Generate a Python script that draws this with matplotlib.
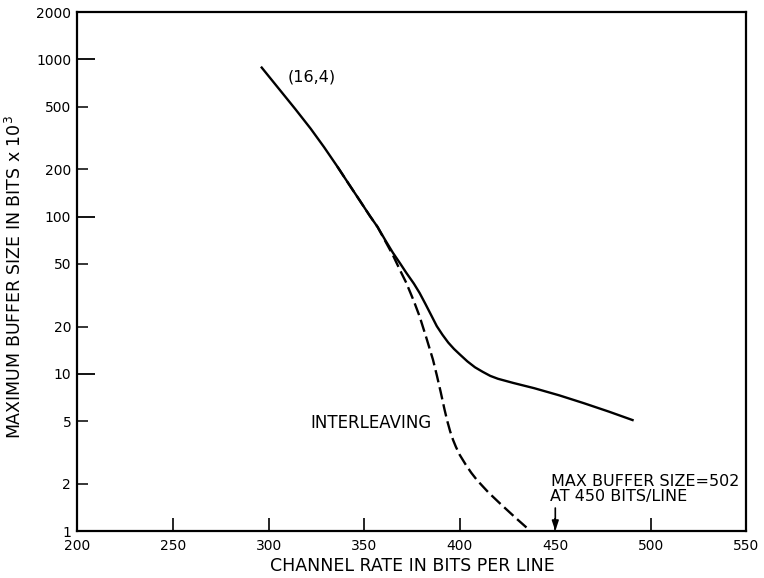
import matplotlib
matplotlib.use("Agg")
import matplotlib.pyplot as plt
from matplotlib.ticker import FixedLocator, FuncFormatter

# (16,4) code: maximum buffer size (bits x 10^3) vs channel rate (bits/line)
rate_16_4 = [296, 306, 314, 322, 329, 336, 342, 348, 353, 357, 361, 365,
             369, 372, 376, 379, 382, 385, 388, 391, 394, 397, 400, 404,
             408, 412, 416, 420, 428, 439, 452, 465, 478, 491]
buffer_16_4 = [900, 637, 483, 363, 277, 208, 161, 125, 101, 86, 71, 59,
               50, 44, 37.5, 32.7, 27.9, 23.7, 20.1, 17.7, 15.8, 14.4, 13.3,
               12.0, 11.0, 10.3, 9.7, 9.3, 8.75, 8.1, 7.3, 6.5, 5.75, 5.05]

# with interleaving
rate_interleave = [336, 342, 348, 353, 357, 361, 365, 369, 372, 376, 379,
                   382.5, 386, 388, 390, 392, 393.5, 395, 396.5, 398, 400,
                   403, 406, 409, 415, 421, 429, 437]
buffer_interleave = [208, 161, 125, 101, 86, 70, 57, 45, 38, 29, 23.2, 17,
                     12.3, 9.8, 7.7, 5.96, 5.0, 4.3, 3.8, 3.43, 3.05, 2.66,
                     2.35, 2.11, 1.76, 1.5, 1.22, 1.0]

x_ticks = [200, 250, 300, 350, 400, 450, 500, 550]
y_major = [1, 10, 100, 1000, 2000]
y_minor = [2, 5, 20, 50, 200, 500]

plt.rcParams["font.family"] = ["DejaVu Sans"]
plt.rcParams["lines.scale_dashes"] = False

fig = plt.figure(figsize=(7.64, 5.78), dpi=100)
ax = fig.add_axes([0.1014, 0.0813, 0.8756, 0.8977])

ax.plot(rate_16_4, buffer_16_4, color="black", lw=1.7,
        solid_capstyle="butt", solid_joinstyle="round")
ax.plot(rate_interleave, buffer_interleave, color="black", lw=1.7,
        dashes=(9, 3.6), dash_capstyle="butt", dash_joinstyle="round")

ax.set_yscale("log")
ax.set_xlim(200, 550)
ax.set_ylim(1, 2000)

ax.xaxis.set_major_locator(FixedLocator(x_ticks))
ax.yaxis.set_major_locator(FixedLocator(y_major))
ax.yaxis.set_minor_locator(FixedLocator(y_minor))
fmt = FuncFormatter(lambda v, p: f"{v:g}")
ax.xaxis.set_major_formatter(fmt)
ax.yaxis.set_major_formatter(fmt)
ax.yaxis.set_minor_formatter(fmt)

ax.tick_params(axis="x", which="major", direction="in", length=9.5,
               width=1.2, pad=6, labelsize=10)
ax.tick_params(axis="y", which="major", direction="in", length=13,
               width=1.3, pad=4.5, labelsize=10)
ax.tick_params(axis="y", which="minor", direction="in", length=8,
               width=1.1, pad=4.5, labelsize=10)

for s in ax.spines.values():
    s.set_linewidth(1.6)

ax.set_xlabel("CHANNEL RATE IN BITS PER LINE", fontsize=12.5)
ax.set_ylabel("MAXIMUM BUFFER SIZE IN BITS x 10$^3$", fontsize=12.5)
ax.xaxis.set_label_coords(0.5, -0.05)
ax.yaxis.set_label_coords(-0.079, 0.49)

ax.text(310, 774, "(16,4)", fontsize=11.5, ha="left", va="center")
ax.text(322, 4.84, "INTERLEAVING", fontsize=12, ha="left", va="center")
ax.text(447.5, 2.07, "MAX BUFFER SIZE=502", fontsize=11.5, ha="left",
        va="center")
ax.text(447.0, 1.66, "AT 450 BITS/LINE", fontsize=11.5, ha="left",
        va="center")
ax.annotate("", xy=(450, 1.0), xytext=(450, 1.40),
            arrowprops=dict(arrowstyle="-|>,head_length=0.6,head_width=0.2",
                            color="black", lw=1.2, shrinkA=0, shrinkB=0))

fig.savefig("out.png", dpi=100)
